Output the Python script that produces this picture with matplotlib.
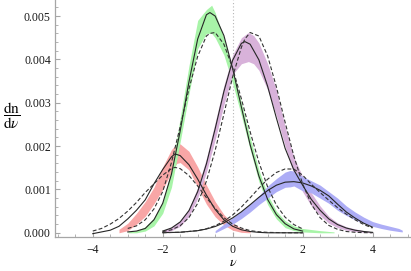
import numpy as np
import matplotlib
matplotlib.use("Agg")
import matplotlib.pyplot as plt
from matplotlib.ticker import AutoMinorLocator, FormatStrFormatter

plt.rcParams['font.family'] = 'serif'
plt.rcParams['font.serif'] = ['Liberation Serif', 'DejaVu Serif']
plt.rcParams['mathtext.fontset'] = 'stix'

# values in units of 1e-3 (dn/dnu)
red_x = [-4, -3.75, -3.5, -3.25, -3, -2.75, -2.5, -2.25, -2, -1.75, -1.65, -1.5, -1.25, -1,
         -0.75, -0.5, -0.25, 0, 0.25, 0.5, 0.75, 1, 1.5, 2]
red_fit = [-0.02, 0.02, 0.06, 0.15, 0.32, 0.52, 0.76, 1.13, 1.46, 1.75, 1.82, 1.78, 1.57, 1.24,
           0.87, 0.54, 0.30, 0.15, 0.07, 0.03, 0.01, 0.0, 0.0, 0.0]
red_alt = [0.04, 0.10, 0.20, 0.33, 0.50, 0.70, 0.93, 1.13, 1.33, 1.48, 1.51, 1.48, 1.32, 1.08,
           0.81, 0.56, 0.35, 0.20, 0.11, 0.05, 0.024, 0.01, 0.002, 0.0]
red_band_x = [-3.25, -3, -2.75, -2.5, -2.25, -2, -1.75, -1.6, -1.5, -1.25, -1, -0.75, -0.5,
              -0.25, 0, 0.25, 0.5]
red_hi = [0.08, 0.22, 0.45, 0.72, 1.05, 1.52, 1.92, 2.05, 2.05, 1.88, 1.52, 1.10, 0.72,
          0.42, 0.22, 0.10, 0.03]
red_lo = [0.0, 0.05, 0.20, 0.38, 0.67, 1.0, 1.4, 1.6, 1.62, 1.45, 1.05, 0.66, 0.37,
          0.18, 0.06, 0.01, 0.0]

green_x = [-3, -2.75, -2.5, -2.25, -2, -1.75, -1.5, -1.25, -1, -0.75, -0.65, -0.5, -0.25, 0,
           0.25, 0.5, 0.75, 1, 1.25, 1.5, 1.75, 2]
green_fit = [0.02, 0.04, 0.10, 0.30, 0.68, 1.35, 2.35, 3.48, 4.47, 5.03, 5.08, 5.00, 4.55, 3.79,
             2.90, 2.03, 1.31, 0.77, 0.42, 0.21, 0.09, 0.04]
green_alt = [0.10, 0.16, 0.30, 0.55, 0.95, 1.62, 2.45, 3.32, 4.07, 4.54, 4.60, 4.62, 4.35, 3.80,
             3.09, 2.33, 1.63, 1.06, 0.64, 0.36, 0.19, 0.09]
green_band_x = [-3, -2.75, -2.5, -2.25, -2, -1.75, -1.5, -1.25, -1, -0.75, -0.6, -0.5, -0.25, 0,
                0.25, 0.5, 0.75, 1, 1.25, 1.5, 1.75, 2, 2.5, 2.9]
green_hi = [0.02, 0.05, 0.14, 0.35, 0.72, 1.45, 2.65, 3.85, 4.9, 5.15, 5.25, 5.08, 4.5, 3.75,
            3.0, 2.2, 1.45, 0.88, 0.5, 0.28, 0.16, 0.1, 0.05, 0.02]
green_lo = [0.0, 0.0, 0.04, 0.16, 0.45, 1.05, 2.1, 3.2, 4.25, 4.6, 4.6, 4.5, 4.1, 3.45,
            2.7, 1.92, 1.18, 0.65, 0.32, 0.12, 0.05, 0.02, 0.0, 0.0]

purple_x = [-2, -1.75, -1.5, -1.25, -1, -0.75, -0.5, -0.25, 0, 0.25, 0.35, 0.5, 0.75, 1, 1.25,
            1.5, 1.75, 2, 2.25, 2.5, 2.75, 3, 3.25, 3.5, 3.75, 4]
purple_fit = [0.04, 0.11, 0.25, 0.51, 0.95, 1.59, 2.40, 3.26, 3.98, 4.37, 4.41, 4.35, 3.99, 3.38,
              2.65, 1.95, 1.45, 1.10, 0.77, 0.52, 0.32, 0.19, 0.11, 0.06, 0.03, 0.01]
purple_alt = [0.027, 0.069, 0.163, 0.35, 0.68, 1.19, 1.90, 2.74, 3.60, 4.28, 4.47, 4.62, 4.54,
              4.08, 3.37, 2.55, 1.77, 1.13, 0.66, 0.35, 0.17, 0.08, 0.03, 0.012, 0.004, 0.001]
purple_band_x = [-2, -1.75, -1.5, -1.25, -1, -0.75, -0.5, -0.25, 0, 0.25, 0.45, 0.6, 0.75, 1,
                 1.25, 1.5, 1.75, 2, 2.25, 2.5, 2.75, 3, 3.25, 3.5, 3.75, 4]
purple_hi = [0.05, 0.13, 0.28, 0.56, 1.05, 1.72, 2.55, 3.4, 4.1, 4.5, 4.62, 4.55, 4.38, 3.9,
             3.3, 2.45, 1.75, 1.3, 0.92, 0.62, 0.38, 0.23, 0.14, 0.09, 0.05, 0.02]
purple_lo = [0.0, 0.05, 0.15, 0.38, 0.8, 1.4, 2.15, 2.95, 3.65, 3.9, 3.95, 3.9, 3.75, 3.3,
             2.7, 2.0, 1.35, 0.95, 0.62, 0.4, 0.22, 0.12, 0.06, 0.03, 0.01, 0.0]

blue_x = [-2, -1.5, -1, -0.75, -0.5, -0.25, 0, 0.25, 0.5, 0.75, 1, 1.25, 1.5, 1.75, 2, 2.25,
          2.5, 2.75, 3, 3.25, 3.5, 3.75, 4]
blue_fit = [0.003, 0.013, 0.049, 0.087, 0.145, 0.229, 0.344, 0.485, 0.648, 0.818, 0.975, 1.098,
            1.168, 1.18, 1.15, 1.08, 0.98, 0.85, 0.66, 0.48, 0.34, 0.22, 0.13]
blue_alt = [0.002, 0.012, 0.05, 0.094, 0.163, 0.267, 0.41, 0.595, 0.808, 1.03, 1.236, 1.392,
            1.473, 1.47, 1.33, 1.12, 0.93, 0.75, 0.58, 0.43, 0.30, 0.19, 0.11]
blue_band_x = [-0.5, -0.25, 0, 0.25, 0.5, 0.75, 1, 1.25, 1.5, 1.65, 1.75, 2, 2.25, 2.5, 2.75,
               3, 3.25, 3.5, 3.75, 4, 4.25, 4.5, 4.75, 4.85]
blue_hi = [0.05, 0.2, 0.35, 0.5, 0.66, 0.85, 1.08, 1.25, 1.4, 1.44, 1.42, 1.3, 1.2, 1.1, 0.95,
           0.8, 0.62, 0.48, 0.36, 0.26, 0.2, 0.15, 0.1, 0.06]
blue_lo = [0.0, 0.1, 0.2, 0.33, 0.48, 0.65, 0.8, 0.95, 1.05, 1.06, 1.08, 0.97, 0.92, 0.8, 0.68,
           0.52, 0.4, 0.3, 0.22, 0.15, 0.1, 0.06, 0.03, 0.02]

x_ticks = [-4, -2, 0, 2, 4]
y_ticks = [0.0, 0.001, 0.002, 0.003, 0.004, 0.005]

groups = [
    (red_x, red_fit, red_alt, red_band_x, red_hi, red_lo, '#f8a6a6'),
    (green_x, green_fit, green_alt, green_band_x, green_hi, green_lo, '#a8f4a8'),
    (purple_x, purple_fit, purple_alt, purple_band_x, purple_hi, purple_lo, '#d8b2da'),
    (blue_x, blue_fit, blue_alt, blue_band_x, blue_hi, blue_lo, '#adadf6'),
]

fig = plt.figure(figsize=(4.11, 2.71), dpi=100)
ax = fig.add_axes([55/411, 34.3/271, 356/411, 236.7/271])

ax.axvline(0, color='#b4b4b4', lw=0.8, ls=(0, (1, 2)), zorder=0)

for i, (x, fit, alt, bx, hi, lo, col) in enumerate(groups):
    ax.fill_between(bx, np.array(lo)*1e-3, np.array(hi)*1e-3, color=col, lw=0, zorder=1+i*0.1)
for x, fit, alt, bx, hi, lo, col in groups:
    ax.plot(x, np.array(fit)*1e-3, color='#262626', lw=0.8, zorder=3)
    ax.plot(x, np.array(alt)*1e-3, color='#333333', lw=0.8, ls=(0, (3.5, 2)), zorder=3)

ax.set_xlim(-5.08, 5.1)
ax.set_ylim(-0.00009, 0.00537)
ax.set_xticks(x_ticks)
ax.set_yticks(y_ticks)
ax.xaxis.set_minor_locator(AutoMinorLocator(4))
ax.yaxis.set_minor_locator(AutoMinorLocator(5))
ax.yaxis.set_major_formatter(FormatStrFormatter('%.3f'))

for s in ['top', 'right']:
    ax.spines[s].set_visible(False)
for s in ['left', 'bottom']:
    ax.spines[s].set_color('#a6a6a6')
    ax.spines[s].set_linewidth(0.9)

ax.tick_params(which='both', direction='in', color='#a6a6a6', labelcolor='#1a1a1a',
               labelsize=8.5)
ax.tick_params(which='major', length=3.5, width=0.8)
ax.tick_params(which='minor', length=2, width=0.6)
ax.tick_params(axis='y', pad=3)
ax.tick_params(axis='x', pad=5)

fig.text(12/411, 1 - 116/271, r'$\dfrac{\mathrm{dn}}{\mathrm{d}\nu}$', fontsize=11,
         ha='center', va='center')
fig.text(232.7/411, 1 - 263/271, r'$\nu$', fontsize=10, ha='center', va='center')

fig.savefig('out.png', dpi=100)
